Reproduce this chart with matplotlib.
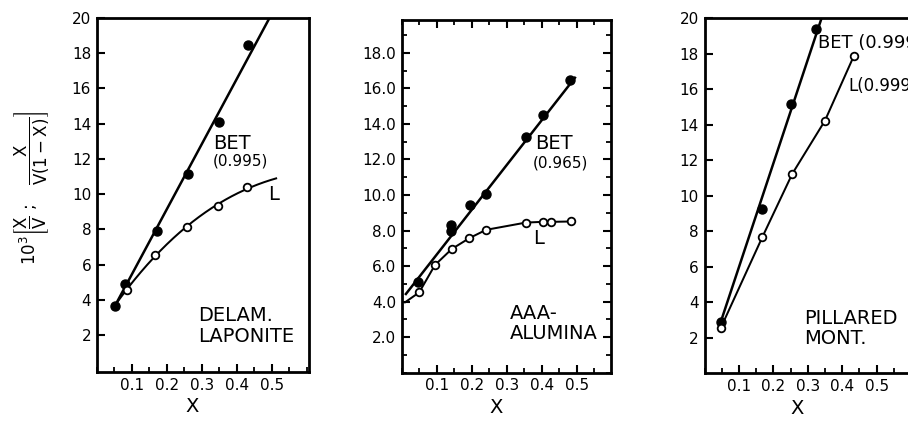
import numpy as np
import matplotlib
matplotlib.use("Agg")
import matplotlib.pyplot as plt
from matplotlib.ticker import MultipleLocator, FixedLocator

plt.rcParams['font.family'] = ['DejaVu Sans']
plt.rcParams['mathtext.default'] = 'regular'

# ---------------- data ----------------
# Panel 1: Delam. Laponite
p1_bet_x = [0.052, 0.081, 0.171, 0.260, 0.349, 0.434]
p1_bet_y = [3.65, 4.90, 7.93, 11.15, 14.10, 18.44]
p1_bet_line_x = [0.052, 0.494]
p1_bet_line_y = [3.65, 20.0]
p1_l_x = [0.087, 0.167, 0.257, 0.347, 0.430]
p1_l_y = [4.56, 6.55, 8.15, 9.33, 10.41]
p1_l_curve_x = [0.052, 0.087, 0.167, 0.257, 0.347, 0.430, 0.513]
p1_l_curve_y = [3.70, 4.56, 6.55, 8.15, 9.33, 10.41, 10.86]

# Panel 2: AAA-alumina
p2_bet_x = [0.047, 0.140, 0.140, 0.196, 0.241, 0.355, 0.403, 0.481]
p2_bet_y = [5.12, 8.30, 7.95, 9.43, 10.08, 13.26, 14.48, 16.50]
p2_bet_line_x = [0.012, 0.495]
p2_bet_line_y = [4.43, 16.60]
p2_l_x = [0.050, 0.095, 0.143, 0.193, 0.241, 0.355, 0.403, 0.427, 0.483]
p2_l_y = [4.52, 6.06, 6.96, 7.57, 8.04, 8.45, 8.49, 8.49, 8.51]
p2_l_start_x = [0.0095]
p2_l_start_y = [3.96]

# Panel 3: Pillared mont.
p3_bet_x = [0.047, 0.166, 0.252, 0.323]
p3_bet_y = [2.90, 9.24, 15.17, 19.39]
p3_bet_line_x = [0.045, 0.340]
p3_bet_line_y = [2.75, 20.0]
p3_l_x = [0.047, 0.168, 0.255, 0.350, 0.434]
p3_l_y = [2.53, 7.66, 11.23, 14.23, 17.88]

p13_yticks = [2, 4, 6, 8, 10, 12, 14, 16, 18, 20]
p2_yticks = [2.0, 4.0, 6.0, 8.0, 10.0, 12.0, 14.0, 16.0, 18.0]
x_ticks = [0.1, 0.2, 0.3, 0.4, 0.5]
x_ticklabels = ["0.1", "0.2", "0.3", "0.4", "0.5"]

# ---------------- figure ----------------
W, H = 908, 421
fig = plt.figure(figsize=(W / 100, H / 100), dpi=100)

def axpos(left, right, top, bottom):
    return [left / W, 1 - bottom / H, (right - left) / W, (bottom - top) / H]

ax1 = fig.add_axes(axpos(96.7, 309, 18, 372))
ax2 = fig.add_axes(axpos(401.7, 611, 20, 372.7))
ax3 = fig.add_axes(axpos(704.5, 911, 18.3, 373))

lw = 1.8
fill_kw = dict(marker='o', ms=6.5, color='black', linestyle='none', zorder=4)
open_kw = dict(marker='o', ms=5.5, mfc='white', mec='black', mew=1.3,
               linestyle='none', zorder=5)
text_kw = dict(fontsize=14, va='center', ha='left')

def style(ax, xlim, ylim, yticks, ylabels, minor_y=None, box_ticks=False):
    ax.set_xlim(*xlim)
    ax.set_ylim(*ylim)
    for s in ax.spines.values():
        s.set_linewidth(2.0)
    ax.set_xticks(x_ticks)
    ax.set_xticklabels(x_ticklabels)
    ax.xaxis.set_minor_locator(MultipleLocator(0.05))
    ax.set_yticks(yticks)
    ax.set_yticklabels(ylabels)
    if minor_y is not None:
        ax.yaxis.set_minor_locator(MultipleLocator(minor_y))
    ax.tick_params(which='major', direction='in', length=6, width=1.5,
                   labelsize=11, pad=4)
    ax.tick_params(which='minor', direction='in', length=3.5, width=1.3)
    if box_ticks:
        ax.tick_params(which='both', top=True, right=True)
    ax.set_xlabel("X", fontsize=14)
    ax.xaxis.set_label_coords(0.45, -0.072)

# Panel 1
ax1.plot(p1_bet_line_x, p1_bet_line_y, color='black', lw=lw, zorder=3)
c1 = np.polyfit(p1_l_curve_x, p1_l_curve_y, 3)
xx1 = np.linspace(min(p1_l_curve_x), max(p1_l_curve_x), 200)
ax1.plot(xx1, np.polyval(c1, xx1), color='black', lw=lw * 0.8, zorder=3)
ax1.plot(p1_bet_x, p1_bet_y, **fill_kw)
ax1.plot(p1_l_x, p1_l_y, **open_kw)
style(ax1, (0, 0.607), (-0.1, 20), p13_yticks, [str(v) for v in p13_yticks])
ax1.yaxis.set_minor_locator(FixedLocator([]))
ax1.text(0.332, 12.85, "BET", **text_kw)
ax1.text(0.332, 11.9, "(0.995)", fontsize=11, va='center', ha='left')
ax1.text(0.489, 10.0, "L", **text_kw)
ax1.text(0.29, 3.08, "DELAM.", **text_kw)
ax1.text(0.29, 1.91, "LAPONITE", **text_kw)

# Panel 2
ax2.plot(p2_bet_line_x, p2_bet_line_y, color='black', lw=lw, zorder=3)
ax2.plot(p2_l_start_x + p2_l_x, p2_l_start_y + p2_l_y, color='black',
         lw=lw * 0.8, zorder=3)
ax2.plot(p2_bet_x, p2_bet_y, **fill_kw)
ax2.plot(p2_l_x, p2_l_y, **open_kw)
style(ax2, (0, 0.598), (0, 19.85), p2_yticks, [f"{v:.1f}" for v in p2_yticks],
      minor_y=1.0, box_ticks=True)
ax2.text(0.381, 12.88, "BET", **text_kw)
ax2.text(0.375, 11.81, "(0.965)", fontsize=11, va='center', ha='left')
ax2.text(0.375, 7.57, "L", **text_kw)
ax2.text(0.309, 3.31, "AAA-", **text_kw)
ax2.text(0.309, 2.18, "ALUMINA", **text_kw)

# Panel 3
ax3.plot(p3_bet_line_x, p3_bet_line_y, color='black', lw=lw, zorder=3)
ax3.plot(p3_l_x, p3_l_y, color='black', lw=lw * 0.8, zorder=3)
ax3.plot(p3_bet_x, p3_bet_y, **fill_kw)
ax3.plot(p3_l_x, p3_l_y, **open_kw)
style(ax3, (0, 0.6), (0, 20), p13_yticks, [str(v) for v in p13_yticks])
ax3.yaxis.set_minor_locator(FixedLocator([]))
ax3.text(0.33, 18.61, "BET (0.999)", fontsize=13, va='center', ha='left')
ax3.text(0.417, 16.16, "L(0.999)", fontsize=12, va='center', ha='left')
ax3.text(0.289, 3.08, "PILLARED", **text_kw)
ax3.text(0.289, 1.96, "MONT.", **text_kw)

fig.text(32 / W, 1 - 188 / H,
         r"$10^3\left[\dfrac{X}{V}\ ;\quad \dfrac{X}{V(1-X)}\right]$",
         rotation=90, ha='center', va='center', fontsize=12)

fig.savefig("out.png", dpi=100)
